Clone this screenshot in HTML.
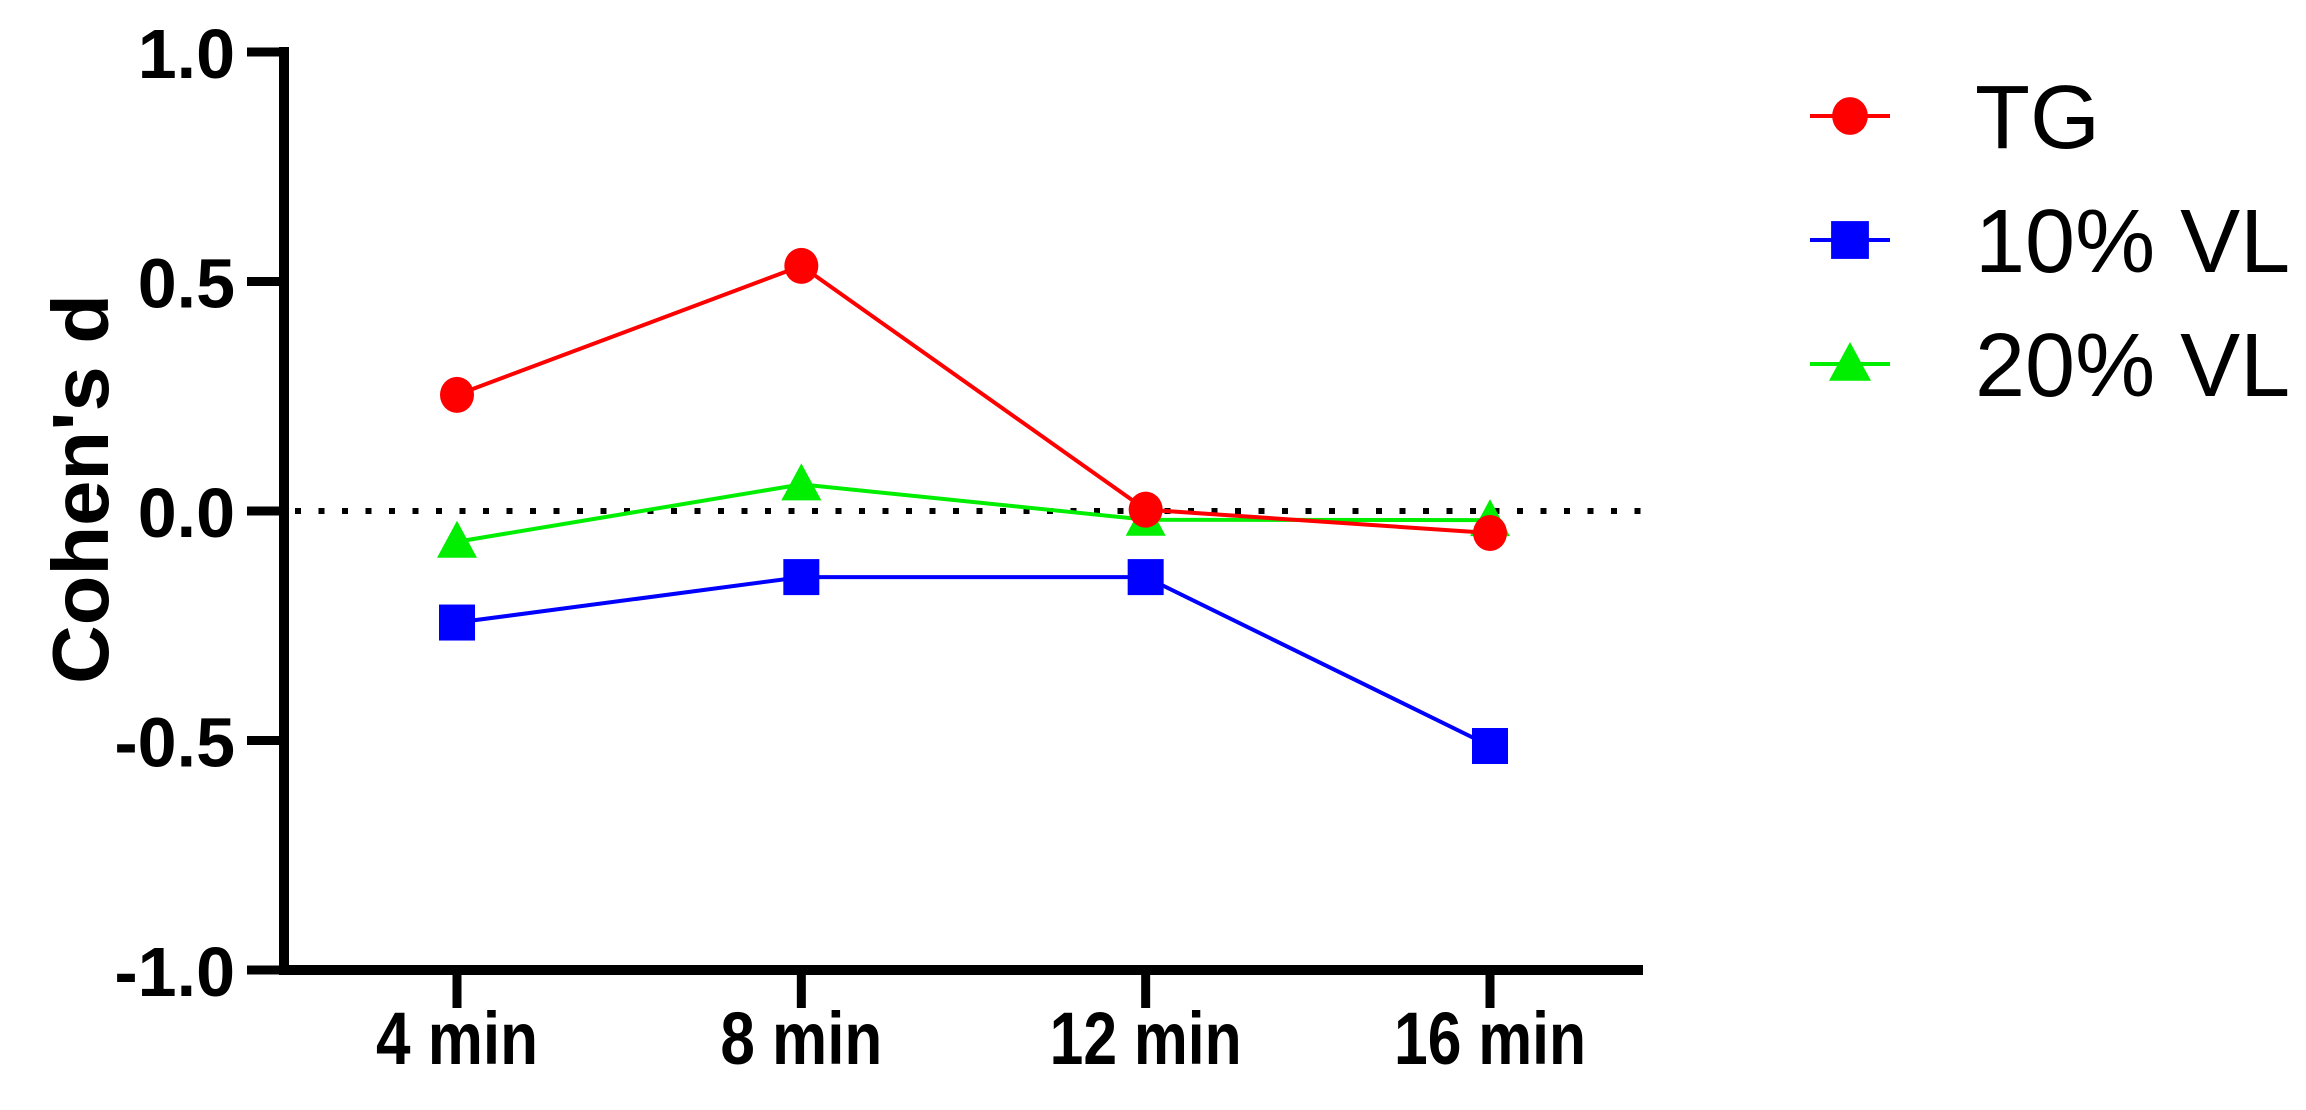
<!DOCTYPE html>
<html><head><meta charset="utf-8"><style>
html,body{margin:0;padding:0;background:#fff;}
svg{display:block;}
text{font-family:"Liberation Sans",Arial,sans-serif;}
</style></head><body>
<svg id="chart" width="2306" height="1110" viewBox="0 0 2306 1110" xmlns="http://www.w3.org/2000/svg">
<g id="axes"></g>
<g id="plot"></g>
<g id="legend"></g>
</svg>
<script>
const categories = ["4 min", "8 min", "12 min", "16 min"];
const seriesNames = ["TG", "10% VL", "20% VL"];
const tgValues = [0.253, 0.534, 0.003, -0.048];
const vl10Values = [-0.243, -0.144, -0.144, -0.512];
const vl20Values = [-0.067, 0.058, -0.019, -0.020];
const yTicks = [1.0, 0.5, 0.0, -0.5, -1.0];
const yTickLabels = ["1.0", "0.5", "0.0", "-0.5", "-1.0"];

const NS = "http://www.w3.org/2000/svg";
const X0 = 284, XEND = 1643, Y_TOP = 52, Y_BOT = 970;
const catX = [457, 802, 1146, 1490];
function xScale(i){ return catX[0] + i * (catX[3]-catX[0]) / (categories.length-1); }
function yScale(v){ return Y_TOP + (1 - v) / 2 * (Y_BOT - Y_TOP); }
function mk(tag, attrs, parent){
  const e = document.createElementNS(NS, tag);
  for (const k in attrs) e.setAttribute(k, attrs[k]);
  parent.appendChild(e); return e;
}
const axes = document.getElementById('axes');
const plot = document.getElementById('plot');
const legend = document.getElementById('legend');

let el = mk('line', {x1:X0, y1:Y_TOP-5, x2:X0, y2:Y_BOT+5, stroke:'#000','stroke-width':10}, axes);


el = mk('line', {x1:X0-5, y1:Y_BOT, x2:XEND, y2:Y_BOT, stroke:'#000','stroke-width':10}, axes);



yTicks.forEach((v, i) => {
  const y = yScale(v);
  let t = mk('line', {x1:247, y1:y, x2:X0, y2:y, stroke:'#000','stroke-width':9}, axes);
  
  
  let lab = mk('text', {x:235, y:y+26, 'text-anchor':'end','font-size':70,'font-weight':'bold'}, axes);
  lab.textContent = yTickLabels[i];
  
  
});

categories.forEach((c, i) => {
  const x = xScale(i);
  let t = mk('line', {x1:x, y1:Y_BOT, x2:x, y2:1008, stroke:'#000','stroke-width':9}, axes);
  
  
  let lab = mk('text', {x:x, y:1064, 'text-anchor':'middle','font-size':74,'font-weight':'bold', textLength: (c.length>5?192:162), lengthAdjust:'spacingAndGlyphs'}, axes);
  lab.textContent = c;
  
  
});

let yt = mk('text', {x:0, y:0, transform:'translate(108,489) rotate(-90)', 'text-anchor':'middle','font-size':80,'font-weight':'bold', textLength:390, lengthAdjust:'spacingAndGlyphs'}, axes);
yt.textContent = "Cohen's d";



let zl = mk('line', {x1:295, y1:yScale(0), x2:1643, y2:yScale(0), stroke:'#000','stroke-width':6,'stroke-dasharray':'6 17.5'}, plot);



const colors = ['#ff0000', '#0000ff', '#00ee00'];
const shapes = ['circle', 'square', 'triangle'];
function marker(shape, x, y, color, parent, k){
  k = k || 1;
  let m;
  if (shape === 'circle') m = mk('ellipse', {cx:x, cy:y, rx:17*k, ry:18*k, fill:color}, parent);
  else if (shape === 'square') m = mk('rect', {x:x-18*k, y:y-18*k, width:36*k, height:36*k, fill:color}, parent);
  else m = mk('polygon', {points:`${x},${y-21*k} ${x+20*k},${y+16*k} ${x-20*k},${y+16*k}`, fill:color}, parent);
  return m;
}
const allValues = [tgValues, vl10Values, vl20Values];
const order = [2, 1, 0];
order.forEach(s => {
  const vals = allValues[s];
  const g = mk('g', {}, plot);
  
  
  const pts = vals.map((v, i) => xScale(i) + ',' + yScale(v)).join(' ');
  const pl = mk('polyline', {points:pts, fill:'none', stroke:colors[s], 'stroke-width':4}, g);
  
  
  vals.forEach((v, i) => {
    const m = marker(shapes[s], xScale(i), yScale(v), colors[s], g);
    
    
  });
});

const legendY = [116, 240, 364];
seriesNames.forEach((n, s) => {
  const g = mk('g', {}, legend);
  
  
  mk('line', {x1:1810, y1:legendY[s], x2:1890, y2:legendY[s], stroke:colors[s], 'stroke-width':4}, g);
  marker(shapes[s], 1850, legendY[s], colors[s], g, 1.05);
  const t = mk('text', {x:1975, y:legendY[s]+32, 'font-size':90}, g);
  t.textContent = n;
});
</script>
</body></html>
